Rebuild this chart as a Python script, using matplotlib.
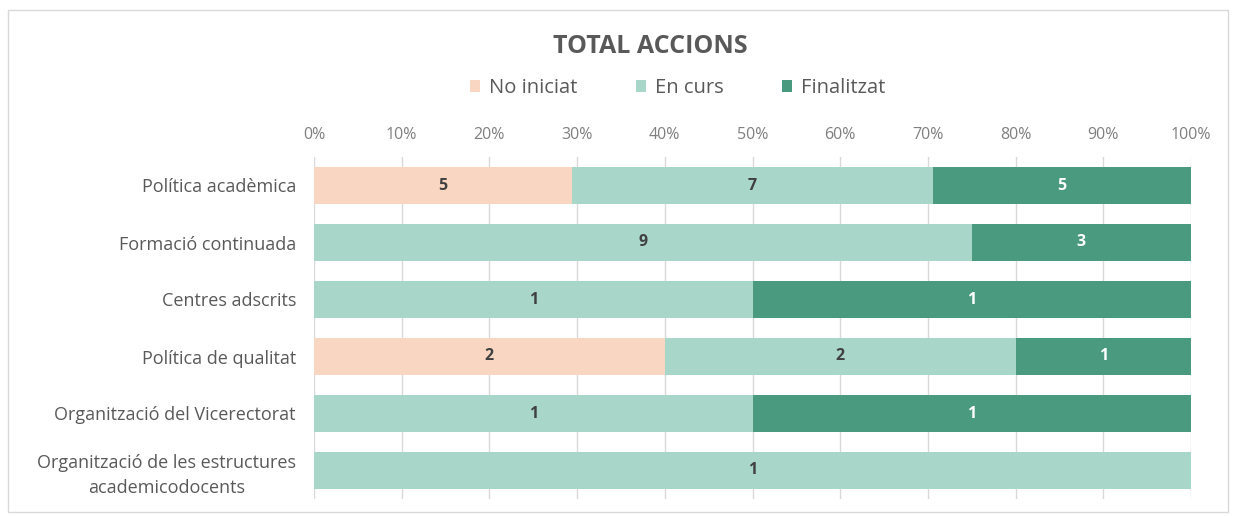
import matplotlib.pyplot as plt
from matplotlib.patches import Rectangle
import numpy as np

categories = [
    "Política acadèmica",
    "Formació continuada",
    "Centres adscrits",
    "Política de qualitat",
    "Organització del Vicerectorat",
    "Organització de les estructures\nacademicodocents",
]
series_names = ["No iniciat", "En curs", "Finalitzat"]
no_iniciat = [5, 0, 0, 2, 0, 0]
en_curs = [7, 9, 1, 2, 1, 1]
finalitzat = [5, 3, 1, 1, 1, 0]
xticks = [0, 10, 20, 30, 40, 50, 60, 70, 80, 90, 100]

COLORS = ["#F8D6C2", "#A8D6C9", "#4A9A80"]
LABEL_COLORS = ["#404040", "#404040", "white"]

plt.rcParams["font.family"] = ["Open Sans", "DejaVu Sans"]

fig = plt.figure(figsize=(12.34, 5.16), dpi=100)
ax = fig.add_axes([314 / 1234, 1 - 499 / 516, 877 / 1234, 342 / 516])

# chart border
fig.patches.append(Rectangle((8 / 1234, 1 - 512 / 516), 1220 / 1234, 502 / 516,
                             transform=fig.transFigure, fill=False,
                             edgecolor="#D9D9D9", linewidth=1.0))

data = np.array([no_iniciat, en_curs, finalitzat], dtype=float)
totals = data.sum(axis=0)
pct = data / totals * 100
y = np.arange(len(categories))
left = np.zeros(len(categories))
handles = []
for i, name in enumerate(series_names):
    h = ax.barh(y, pct[i], left=left, height=0.66, color=COLORS[i],
                label=name, zorder=2)
    handles.append(h)
    for j in range(len(categories)):
        if data[i, j] > 0:
            ax.text(left[j] + pct[i, j] / 2, y[j], f"{int(data[i, j])}",
                    ha="center", va="center", fontsize=11.5, fontweight="bold",
                    color=LABEL_COLORS[i], zorder=3)
    left += pct[i]

ax.set_xlim(0, 100)
ax.set_ylim(len(categories) - 0.5, -0.5)
ax.set_xticks(xticks)
ax.set_xticklabels([f"{t}%" for t in xticks])
ax.xaxis.tick_top()
ax.tick_params(axis="x", length=0, pad=10, labelsize=11.5, labelcolor="#7F7F7F")
ax.tick_params(axis="y", length=0, pad=13, labelsize=13, labelcolor="#595959")
ax.set_yticks(y)
ax.set_yticklabels(categories, multialignment="center", linespacing=1.45)
ax.grid(axis="x", color="#D9D9D9", linewidth=1.0, zorder=0)
for s in ax.spines.values():
    s.set_visible(False)

fig.text(650 / 1234, 1 - 47 / 516, "TOTAL ACCIONS", ha="center", va="center",
         fontsize=18, fontweight="bold", color="#595959")
fig.legend(handles=handles, labels=series_names, loc="center",
           bbox_to_anchor=(678 / 1234, 1 - 88 / 516), ncol=3, frameon=False,
           fontsize=14.5, labelcolor="#595959", handlelength=0.5,
           handleheight=0.5, handletextpad=0.45, columnspacing=2.9)

fig.savefig("out.png", dpi=100)
